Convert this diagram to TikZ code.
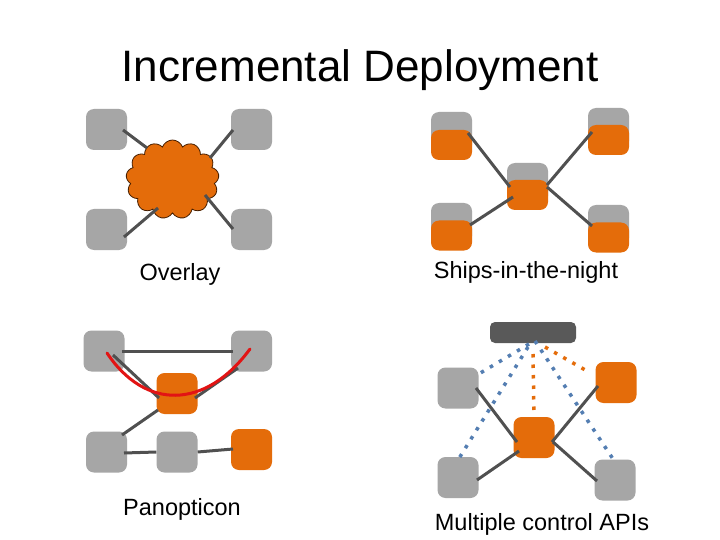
\documentclass[tikz,border=0pt]{standalone}
\usepackage{fontspec}
\setmainfont{Liberation Sans}
\usetikzlibrary{shapes.symbols}
\definecolor{orng}{RGB}{228,108,10}
\definecolor{boxgray}{RGB}{166,166,166}
\definecolor{linkgray}{RGB}{80,80,80}
\definecolor{ctrlgray}{RGB}{89,89,89}
\definecolor{dotblue}{RGB}{84,126,178}
\definecolor{redline}{RGB}{226,20,20}
\definecolor{cloudedge}{RGB}{70,30,0}
\tikzset{
  gbox/.style={fill=boxgray, rounded corners=8pt, minimum width=41pt, minimum height=41pt, inner sep=0pt, draw=none},
  obox/.style={gbox, fill=orng},
  ostrip/.style={obox, minimum height=30pt},
  link/.style={draw=linkgray, line width=3pt},
  bluedots/.style={draw=dotblue, line width=3.5pt, dash pattern=on 3.5pt off 7pt},
  orangedots/.style={draw=orng, line width=3.5pt, dash pattern=on 3.5pt off 7pt},
  lbl/.style={font=\fontsize{23.5}{26}\selectfont, anchor=base, inner sep=0pt},
}
\begin{document}
\begin{tikzpicture}[x=1pt,y=-1pt]
\useasboundingbox (0,0) rectangle (720,540);
\fill[white] (0,0) rectangle (720,540);

\node[font=\fontsize{44}{48}\selectfont, anchor=base, inner sep=0pt] (title) at (360,82) {Incremental Deployment};

% ---------------- Overlay ----------------
\node[gbox] (ovtl) at (106.5,129.5) {};
\node[gbox] (ovtr) at (251.5,129.5) {};
\node[gbox] (ovbl) at (106.5,229.5) {};
\node[gbox] (ovbr) at (251.5,229.5) {};
\node[cloud, cloud puffs=13, cloud puff arc=140, aspect=1.15, fill=orng, draw=cloudedge, line width=0.8pt,
      minimum width=93pt, minimum height=79pt, inner sep=0pt] (ovcloud) at (172.5,179.5) {};
\draw[link] ([shift={(16.5,0.5)}]ovtl.center) -- ([shift={(-25.5,-31.5)}]ovcloud.center);
\draw[link] ([shift={(-18.5,0.5)}]ovtr.center) -- ([shift={(37.5,-21.5)}]ovcloud.center);
\draw[link] ([shift={(17.5,7.5)}]ovbl.center) -- ([shift={(-14.5,28.5)}]ovcloud.center);
\draw[link] ([shift={(-18.5,-0.5)}]ovbr.center) -- ([shift={(32.5,15.5)}]ovcloud.center);
\node[lbl] (ovlabel) at (180,280) {Overlay};

% ---------------- Ships-in-the-night ----------------
\node[gbox] (shtlg) at (451.5,132.5) {};
\node[ostrip] (shtl) at (451.5,145) {};
\node[gbox] (shtrg) at (608.5,128.5) {};
\node[ostrip] (shtr) at (608.5,140) {};
\node[gbox] (shcg) at (527.5,183.5) {};
\node[ostrip] (shc) at (527.5,195) {};
\node[gbox] (shblg) at (451.5,223.5) {};
\node[ostrip] (shbl) at (451.5,235.5) {};
\node[gbox] (shbrg) at (608.5,225.5) {};
\node[ostrip] (shbr) at (608.5,237.5) {};
\draw[link] ([shift={(16.5,-12)}]shtl.center) -- ([shift={(-17.5,-8)}]shc.center);
\draw[link] ([shift={(-16.5,-8)}]shtr.center) -- ([shift={(19.5,-10)}]shc.center);
\draw[link] ([shift={(18.5,-10.5)}]shbl.center) -- ([shift={(-14.5,2)}]shc.center);
\draw[link] ([shift={(-16.5,-11.5)}]shbr.center) -- ([shift={(19.5,-8)}]shc.center);
\node[lbl] (shlabel) at (526,278) {Ships-in-the-night};

% ---------------- Panopticon ----------------
\node[gbox] (patl) at (104,351) {};
\node[gbox] (patr) at (251.5,351) {};
\node[obox] (pac) at (177,393.5) {};
\node[gbox] (pabl) at (106.5,452) {};
\node[gbox] (pabm) at (177,452) {};
\node[obox] (pabr) at (251.5,449.5) {};
\draw[link] ([shift={(18,0)}]patl.center) -- ([shift={(-18.5,0)}]patr.center);
\draw[link] ([shift={(9,4)}]patl.center) -- ([shift={(-18,4.5)}]pac.center);
\draw[link] ([shift={(-13.5,17)}]patr.center) -- ([shift={(18,4.5)}]pac.center);
\draw[link] ([shift={(-19,16.5)}]pac.center) -- ([shift={(15.5,-17)}]pabl.center);
\draw[link] ([shift={(17.5,1)}]pabl.center) -- (pabm.west);
\draw[link] (pabm.east) -- ([shift={(-18.5,-0.5)}]pabr.center);
\draw[draw=redline, line width=3pt, line cap=round]
  ([shift={(3,2)}]patl.center) .. controls (145,410) and (205,410) .. ([shift={(-1.5,-2)}]patr.center);
\node[lbl] (palabel) at (182,515) {Panopticon};

% ---------------- Multiple control APIs ----------------
\node[fill=ctrlgray, rounded corners=5pt, minimum width=86pt, minimum height=21pt, inner sep=0pt] (ctrl) at (533,332.5) {};
\node[gbox] (mctl) at (458,388) {};
\node[obox] (mctr) at (616,382.5) {};
\node[obox] (mcc) at (534,437.5) {};
\node[gbox] (mcbl) at (458,477.5) {};
\node[gbox] (mcbr) at (615,480) {};
\draw[link] ([shift={(18,0)}]mctl.center) -- ([shift={(-17,4.5)}]mcc.center);
\draw[link] ([shift={(-18,3.5)}]mctr.center) -- ([shift={(18,4.5)}]mcc.center);
\draw[link] ([shift={(19,2.5)}]mcbl.center) -- ([shift={(-15,13.5)}]mcc.center);
\draw[link] ([shift={(-18,1)}]mcbr.center) -- ([shift={(19,4.5)}]mcc.center);
\draw[bluedots] ([shift={(-4,11.5)}]ctrl.center) -- ([shift={(19,-13)}]mctl.center);
\draw[bluedots] ([shift={(-5,14.5)}]ctrl.center) -- ([shift={(0,-17.5)}]mcbl.center);
\draw[bluedots] ([shift={(2,8.5)}]ctrl.center) -- ([shift={(0,-18)}]mcbr.center);
\draw[orangedots] ([shift={(0,21.5)}]ctrl.center) -- (mcc.north);
\draw[orangedots] ([shift={(12,14.5)}]ctrl.center) -- ([shift={(-29,-11.5)}]mctr.center);
\node[lbl] (mclabel) at (542,530) {Multiple control APIs};
\end{tikzpicture}
\end{document}
